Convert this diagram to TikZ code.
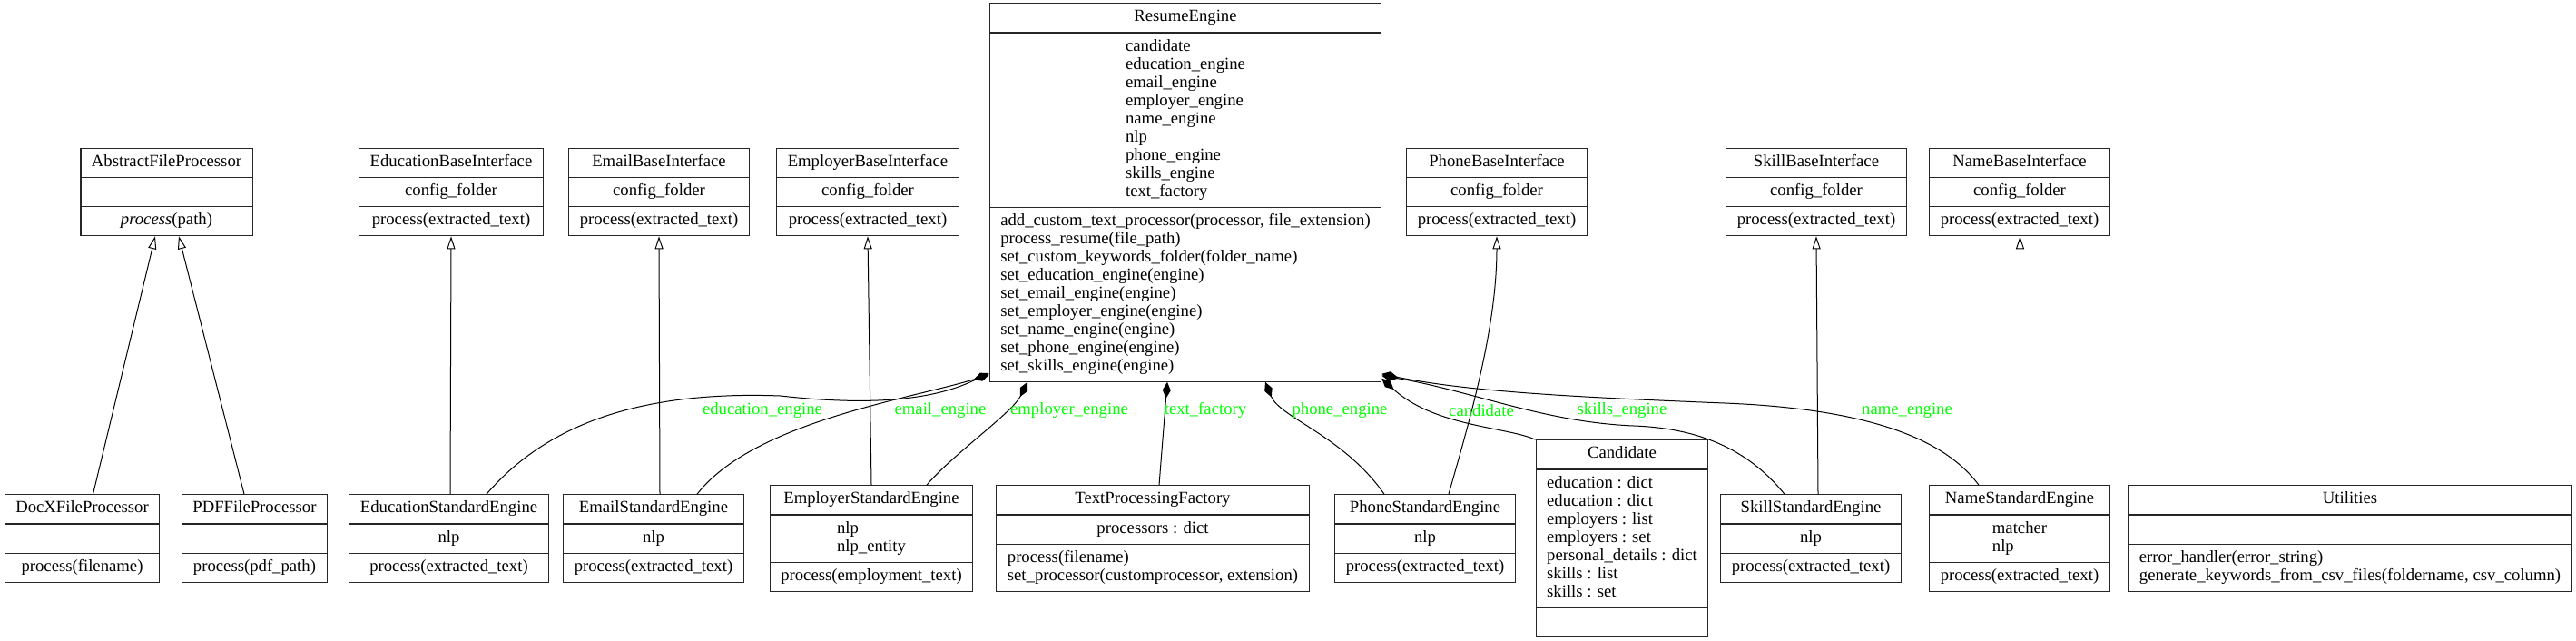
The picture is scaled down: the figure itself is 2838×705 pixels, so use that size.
\documentclass[tikz,border=0pt]{standalone}
\usepackage{fontspec}
\setmainfont{Liberation Serif}
\usepackage{tikz}
\usetikzlibrary{shapes.multipart,arrows.meta,calc}

\definecolor{labelgreen}{RGB}{0,255,0}

\begin{document}
\begin{tikzpicture}[x=1pt,y=-1pt,
  umlclass/.style={rectangle split, rectangle split parts=3, draw=black!85, line width=1.15pt,
    inner xsep=12pt, inner ysep=5.5pt, align=left, fill=white,
    font=\fontsize{18.7}{20}\selectfont},
  inherit/.style={-{Triangle[open,length=14pt,width=9pt]}, line width=1pt},
  compose/.style={{Diamond[length=18pt,width=9pt]}-, line width=1pt},
  elabel/.style={text=labelgreen, font=\fontsize{18.7}{20}\selectfont, inner sep=0pt}]

\useasboundingbox (0,0) rectangle (2838,705);

% Base classes (top row)
\node[umlclass] (afp) at (183.5,211.5) {\strut AbstractFileProcessor\nodepart{two}\strut\nodepart{three}\strut\textit{process}(path)};
\node[umlclass] (eduif) at (497,211.5) {\strut EducationBaseInterface\nodepart{two}\strut config\_folder\nodepart{three}\strut process(extracted\_text)};
\node[umlclass] (emailif) at (726,211.5) {\strut EmailBaseInterface\nodepart{two}\strut config\_folder\nodepart{three}\strut process(extracted\_text)};
\node[umlclass] (emplif) at (956,211.5) {\strut EmployerBaseInterface\nodepart{two}\strut config\_folder\nodepart{three}\strut process(extracted\_text)};
\node[umlclass] (phoneif) at (1649,211.5) {\strut PhoneBaseInterface\nodepart{two}\strut config\_folder\nodepart{three}\strut process(extracted\_text)};
\node[umlclass] (skillif) at (2001,211.5) {\strut SkillBaseInterface\nodepart{two}\strut config\_folder\nodepart{three}\strut process(extracted\_text)};
\node[umlclass] (nameif) at (2225,211.5) {\strut NameBaseInterface\nodepart{two}\strut config\_folder\nodepart{three}\strut process(extracted\_text)};

% Main engine
\node[umlclass] (resume) at (1306,212) {\strut ResumeEngine\nodepart{two}\strut candidate\\education\_engine\\email\_engine\\employer\_engine\\name\_engine\\nlp\\phone\_engine\\skills\_engine\\text\_factory\strut\nodepart{three}\strut add\_custom\_text\_processor(processor, file\_extension)\\process\_resume(file\_path)\\set\_custom\_keywords\_folder(folder\_name)\\set\_education\_engine(engine)\\set\_email\_engine(engine)\\set\_employer\_engine(engine)\\set\_name\_engine(engine)\\set\_phone\_engine(engine)\\set\_skills\_engine(engine)\strut};

% Concrete classes (bottom row)
\node[umlclass] (docx) at (90.5,593) {\strut DocXFileProcessor\nodepart{two}\strut\nodepart{three}\strut process(filename)};
\node[umlclass] (pdf) at (280.5,593) {\strut PDFFileProcessor\nodepart{two}\strut\nodepart{three}\strut process(pdf\_path)};
\node[umlclass] (edueng) at (494.5,593) {\strut EducationStandardEngine\nodepart{two}\strut nlp\nodepart{three}\strut process(extracted\_text)};
\node[umlclass] (emaileng) at (720,593) {\strut EmailStandardEngine\nodepart{two}\strut nlp\nodepart{three}\strut process(extracted\_text)};
\node[umlclass] (empleng) at (960,593) {\strut EmployerStandardEngine\nodepart{two}\strut nlp\\nlp\_entity\strut\nodepart{three}\strut process(employment\_text)};
\node[umlclass] (tpf) at (1270,593) {\strut TextProcessingFactory\nodepart{two}\strut processors : dict\nodepart{three}\strut process(filename)\\set\_processor(customprocessor, extension)\strut};
\node[umlclass] (phoneeng) at (1570,593) {\strut PhoneStandardEngine\nodepart{two}\strut nlp\nodepart{three}\strut process(extracted\_text)};
\node[umlclass] (cand) at (1787,593) {\strut Candidate\nodepart{two}\strut education : dict\\education : dict\\employers : list\\employers : set\\personal\_details : dict\\skills : list\\skills : set\strut\nodepart{three}\strut};
\node[umlclass] (skilleng) at (1995,593) {\strut SkillStandardEngine\nodepart{two}\strut nlp\nodepart{three}\strut process(extracted\_text)};
\node[umlclass] (nameeng) at (2225,593) {\strut NameStandardEngine\nodepart{two}\strut matcher\\nlp\strut\nodepart{three}\strut process(extracted\_text)};
\node[umlclass] (util) at (2589,593) {\strut Utilities\nodepart{two}\strut\nodepart{three}\strut error\_handler(error\_string)\\generate\_keywords\_from\_csv\_files(foldername, csv\_column)\strut};

% Inheritance
\draw[inherit] ([xshift=12pt]docx.north) -- ([xshift=-12.5pt]afp.south);
\draw[inherit] ([xshift=-11.5pt]pdf.north) -- ([xshift=13.5pt]afp.south);
\draw[inherit] ([xshift=1.5pt]edueng.north) -- (eduif.south);
\draw[inherit] ([xshift=7pt]emaileng.north) -- (emailif.south);
\draw[inherit] (empleng.north) -- (emplif.south);
\draw[inherit] ([xshift=26pt]phoneeng.north) .. controls (1620,460) and (1649,360) .. (phoneif.south);
\draw[inherit] ([xshift=8pt]skilleng.north) -- (skillif.south);
\draw[inherit] ([xshift=0.5pt]nameeng.north) -- ([xshift=0.5pt]nameif.south);

% Composition from the engine
\draw[compose] ([yshift=10pt]resume.south west) .. controls (1020,445) and (940,445) .. (860,436)
  .. controls (700,430) and (600,470) .. ([xshift=41.5pt]edueng.north);
\draw[compose] ([yshift=8pt]resume.south west) .. controls (1000,440) and (830,465) .. ([xshift=48pt]emaileng.north);
\draw[compose] ([xshift=-174pt]resume.south) .. controls (1115,455) and (1050,500) .. ([xshift=61pt]empleng.north);
\draw[compose] ([xshift=-20pt]resume.south) -- ([xshift=7pt]tpf.north);
\draw[compose] ([xshift=88pt]resume.south) .. controls (1410,460) and (1480,480) .. ([xshift=-45pt]phoneeng.north);
\draw[compose] ([yshift=4pt]resume.south east) .. controls (1580,470) and (1660,470) .. (cand.north west);
\draw[compose] ([yshift=7pt]resume.south east) .. controls (1620,430) and (1700,465) .. (1800,469)
  .. controls (1880,472) and (1930,500) .. ([xshift=-29pt]skilleng.north);
\draw[compose] ([yshift=9pt]resume.south east) .. controls (1620,432) and (1750,438) .. (1900,444)
  .. controls (2050,450) and (2140,480) .. ([xshift=-45pt]nameeng.north);

% Role names
\node[elabel] (l-edu) at (840,452) {education\_engine};
\node[elabel] (l-email) at (1036,452) {email\_engine};
\node[elabel] (l-empl) at (1178,452) {employer\_engine};
\node[elabel] (l-text) at (1328,452) {text\_factory};
\node[elabel] (l-phone) at (1476,452) {phone\_engine};
\node[elabel] (l-cand) at (1632,452) {candidate};
\node[elabel] (l-skill) at (1787,452) {skills\_engine};
\node[elabel] (l-name) at (2101,452) {name\_engine};

\end{tikzpicture}
\end{document}
